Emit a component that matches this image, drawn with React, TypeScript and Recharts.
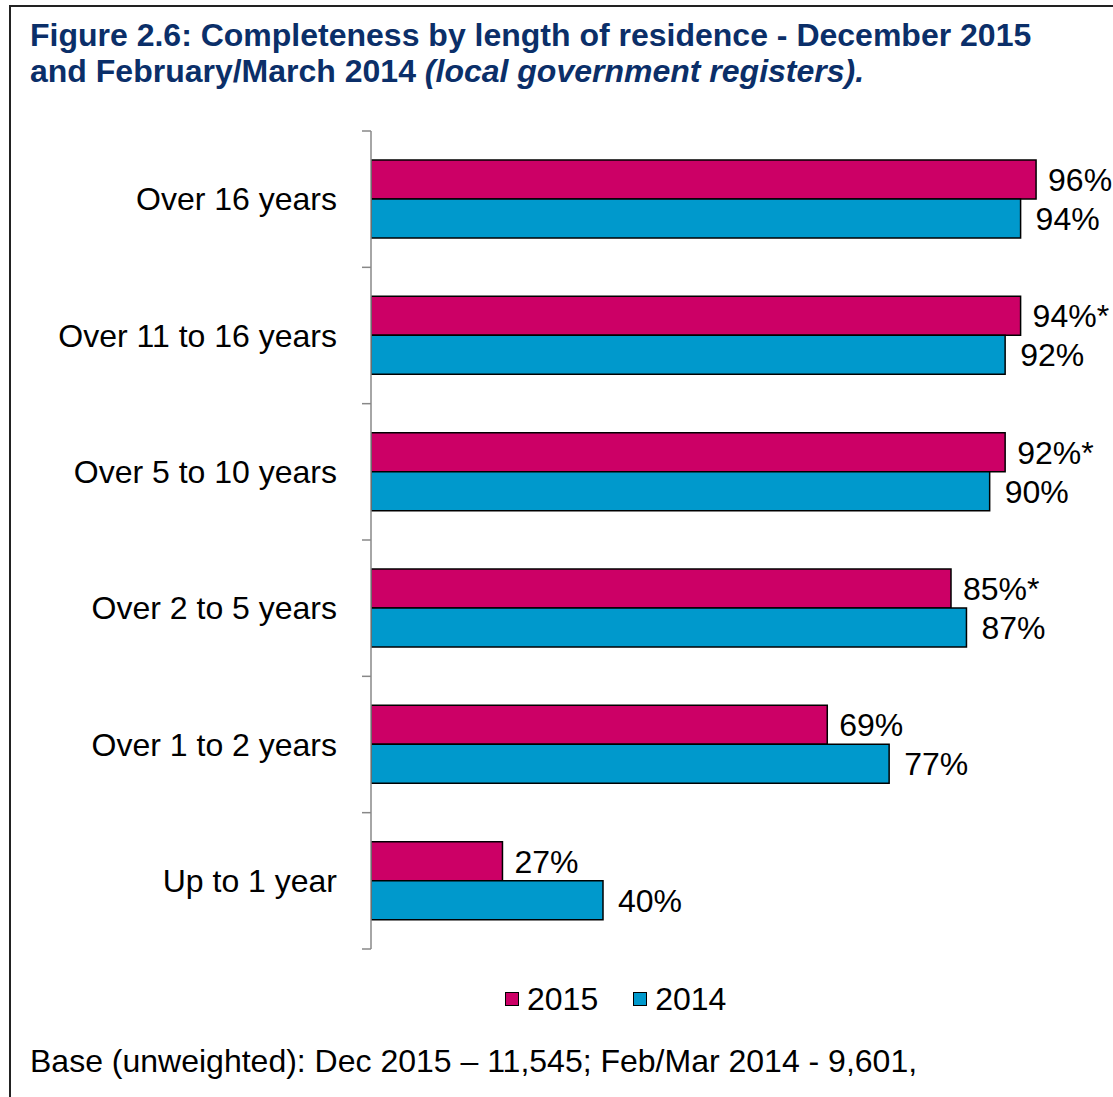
import React from "react";
import { BarChart, Bar, XAxis, YAxis, LabelList } from "recharts";

const categories = [
  "Over 16 years",
  "Over 11 to 16 years",
  "Over 5 to 10 years",
  "Over 2 to 5 years",
  "Over 1 to 2 years",
  "Up to 1 year",
];
const values2015 = [96, 94, 92, 85, 69, 27];
const values2014 = [94, 92, 90, 87, 77, 40];
const labels2015 = ["96%", "94%*", "92%*", "85%*", "69%", "27%"];
const labels2014 = ["94%", "92%", "90%", "87%", "77%", "40%"];
const seriesNames = ["2015", "2014"];
const xDomain = [10, 100];

const data = categories.map((c, i) => ({
  category: c,
  v2015: values2015[i],
  v2014: values2014[i],
  l2015: labels2015[i],
  l2014: labels2014[i],
}));

const FONT = "'Liberation Sans', Arial, sans-serif";
const C2015 = "#CC0066";
const C2014 = "#0099CC";
const TITLE = "#0B2F69";

const W = 1113;
const H = 1097;
const PLOT_TOP = 131;
const PLOT_BOTTOM = 949;
const PLOT_LEFT = 371;
const PLOT_RIGHT = 1067;
const BAND = (PLOT_BOTTOM - PLOT_TOP) / categories.length;

const CategoryTick = (props: any) => {
  const { x, y, payload, index } = props;
  const last = index === categories.length - 1;
  return (
    <g>
      <line x1={x - 9} x2={x} y1={y - BAND / 2} y2={y - BAND / 2} stroke="#888" strokeWidth={1.5} />
      {last && (
        <line x1={x - 9} x2={x} y1={y + BAND / 2} y2={y + BAND / 2} stroke="#888" strokeWidth={1.5} />
      )}
      <text
        x={x - 34}
        y={y}
        textAnchor="end"
        dominantBaseline="central"
        fontSize={32}
        fontFamily={FONT}
        fill="#000"
      >
        {payload.value}
      </text>
    </g>
  );
};

export default function App() {
  const colors = [C2015, C2014];
  return (
    <div style={{ position: "absolute", left: 0, top: 0, width: W, height: H, background: "#fff", overflow: "hidden", fontFamily: FONT }}>
      <div
        style={{
          position: "absolute",
          left: 9,
          top: 5,
          width: W + 20,
          height: H + 20,
          borderLeft: "2px solid #222",
          borderTop: "2px solid #222",
          boxSizing: "border-box",
        }}
      />
      <div
        style={{
          position: "absolute",
          left: 30,
          top: 17,
          color: TITLE,
          fontWeight: "bold",
          fontSize: 32,
          lineHeight: "36px",
          fontFamily: FONT,
          whiteSpace: "nowrap",
        }}
      >
        <div>Figure 2.6: Completeness by length of residence - December 2015</div>
        <div>
          and February/March 2014 <i>(local government registers).</i>
        </div>
      </div>
      <div style={{ position: "absolute", left: 0, top: 0 }}>
        <BarChart
          width={W}
          height={H}
          data={data}
          layout="vertical"
          margin={{ top: PLOT_TOP, bottom: H - PLOT_BOTTOM, left: 0, right: W - PLOT_RIGHT }}
          barCategoryGap={29}
          barGap={0}
        >
          <XAxis type="number" domain={xDomain} hide allowDataOverflow />
          <YAxis
            type="category"
            dataKey="category"
            width={PLOT_LEFT}
            axisLine={{ stroke: "#888", strokeWidth: 1.5 }}
            tickLine={false}
            tickSize={0}
            tickMargin={0}
            tick={<CategoryTick />}
            interval={0}
          />
          <Bar dataKey="v2015" name="2015" fill={C2015} stroke="#000" strokeWidth={1.5} isAnimationActive={false}>
            <LabelList dataKey="l2015" position="right" offset={12} fontSize={32} fontFamily={FONT} fill="#000" />
          </Bar>
          <Bar dataKey="v2014" name="2014" fill={C2014} stroke="#000" strokeWidth={1.5} isAnimationActive={false}>
            <LabelList dataKey="l2014" position="right" offset={15} fontSize={32} fontFamily={FONT} fill="#000" />
          </Bar>
        </BarChart>
      </div>
      <div
        style={{
          position: "absolute",
          left: 505,
          top: 980,
          height: 38,
          display: "flex",
          alignItems: "center",
          fontFamily: FONT,
          fontSize: 32,
          color: "#000",
        }}
      >
        {seriesNames.map((n, i) => (
          <div key={n} style={{ display: "flex", alignItems: "center", marginRight: i === 0 ? 35 : 0 }}>
            <span
              style={{
                display: "inline-block",
                width: 14,
                height: 14,
                background: colors[i],
                border: "1.5px solid #000",
                boxSizing: "border-box",
                marginRight: 8,
              }}
            />
            <span>{n}</span>
          </div>
        ))}
      </div>
      <div
        style={{
          position: "absolute",
          left: 30,
          top: 1043,
          fontSize: 32,
          fontFamily: FONT,
          color: "#000",
          whiteSpace: "nowrap",
        }}
      >
        Base (unweighted): Dec 2015 – 11,545; Feb/Mar 2014 - 9,601,
      </div>
    </div>
  );
}
